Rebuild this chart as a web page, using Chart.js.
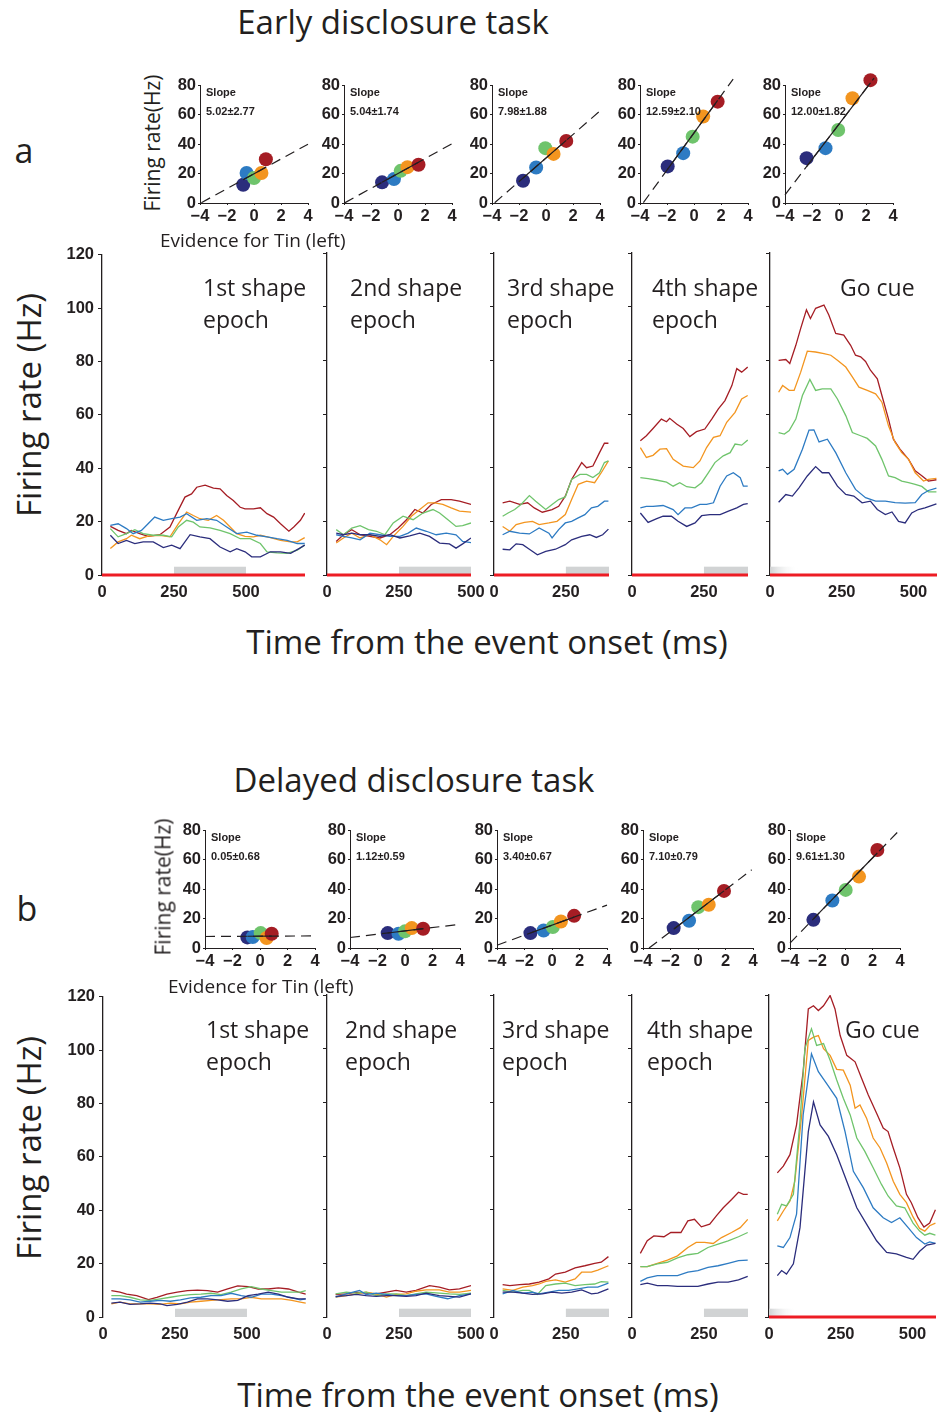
<!DOCTYPE html>
<html>
<head>
<meta charset="utf-8">
<script src="https://cdn.jsdelivr.net/npm/chart.js@4/dist/chart.umd.min.js"></script>
<style>
  body { margin: 0; background: #fff; }
  #fig { position: relative; width: 937px; height: 1414px; overflow: hidden; font-family: "Open Sans", sans-serif; color: #231f20; }
  #fig canvas { position: absolute; }
  .t { position: absolute; white-space: nowrap; line-height: 1; }
</style>
</head>
<body>
<div id="fig"></div>
<script>
// ---- data: firing rate (Hz) vs time from event onset (ms), [ms, Hz] ----
// early disclosure task
const e1Red = [[29,18.2],[56,16.7],[85,15.5],[102,16.7],[131,15.5],[160,14.5],[201,15.1],[236,18],[259,23],[288,29.2],[311,30.4],[329,32.9],[358,33.7],[387,32.6],[410,32.3],[433,29.8],[456,27.9],[480,25.4],[497,24.8],[526,24.8],[550,25.2],[573,23],[596,21.7],[620,19.2],[649,16.4],[666,18],[689,20.5],[704,23.2]];
const e1Orange = [[29,9.9],[56,12.4],[85,13.6],[102,14.9],[131,13.6],[160,14.6],[201,14.9],[236,14.3],[265,19.2],[294,23.6],[317,22.3],[340,21.1],[369,20.5],[398,22.3],[422,20.5],[445,18],[468,15.5],[497,14.5],[526,14.3],[550,14.9],[585,14],[620,13],[655,12.4],[678,12.4],[704,14]];
const e1Green = [[29,17.4],[56,14.3],[85,15.5],[114,17],[143,15.5],[178,14.9],[213,14.9],[242,14.3],[265,18],[294,20.5],[317,19.8],[340,18],[375,17.7],[410,16.7],[445,15.5],[480,13.6],[515,13.6],[550,11.8],[573,8.7],[608,8.3],[643,8.1],[678,9.3],[704,11.2]];
const e1Blue = [[29,18.6],[56,19.2],[85,17.4],[108,15.5],[137,16.7],[160,19.2],[183,21.7],[213,20.5],[242,21.1],[271,21.7],[294,23],[329,20.5],[364,21.1],[398,20.5],[433,18],[468,15.5],[503,16.1],[538,14.9],[573,14.3],[608,13.6],[643,13],[678,11.8],[704,11.8]];
const e1Navy = [[29,14.9],[56,11.8],[85,13],[114,11.8],[143,12.4],[178,12.4],[213,10.3],[242,11.2],[271,9.9],[306,15.1],[340,14.3],[375,13.6],[410,10.5],[445,8.7],[468,9.9],[497,8.7],[520,6.8],[550,6.8],[585,8.7],[620,8.7],[655,8.1],[684,9.9],[704,11.2]];

const e2Red = [[32,12.5],[57,15],[86,16.9],[115,15],[149,14.4],[184,13.8],[218,15],[247,17.5],[276,20.6],[305,24.4],[333,23.1],[362,26.3],[397,28.1],[431,28.1],[460,27.5],[500,26.3]];
const e2Orange = [[32,11.9],[57,13.8],[86,15.6],[115,13.8],[149,15],[184,13.1],[207,11.3],[230,14.4],[264,18.1],[293,21.9],[322,24.4],[351,26.9],[374,26.9],[402,26.3],[431,25],[460,23.8],[500,23.4]];
const e2Green = [[32,16.9],[57,15],[86,17.5],[115,18.4],[144,16.9],[172,16.3],[201,15],[230,19.4],[264,21.9],[299,20.6],[333,23.1],[368,24.4],[391,23.1],[420,20.6],[448,18.1],[471,18.4],[500,19.4]];
const e2Blue = [[32,15],[57,14.4],[86,13.8],[115,13.1],[149,15.6],[184,15],[218,14.4],[253,14.4],[282,15.6],[310,17.5],[345,16.3],[379,15],[414,15.6],[448,15],[471,12.5],[500,12.1]];
const e2Navy = [[32,15.6],[57,15],[86,15.6],[115,15],[149,15],[184,14.4],[218,15],[253,13.8],[287,14.6],[322,15.6],[356,14.4],[391,11.9],[425,11.6],[448,10],[471,11.6],[500,13.8]];

const e3Red = [[30,26.9],[55,27.5],[89,26.3],[117,26.9],[140,25],[168,23.4],[202,24.4],[225,25.6],[248,29.4],[270,35.6],[305,41.9],[322,40],[344,40.6],[367,45.6],[384,49.1],[398,49.1]];
const e3Orange = [[30,18.1],[55,16.3],[77,18.8],[106,19.6],[134,20],[157,18.8],[191,19.4],[219,20],[248,22.5],[270,28.1],[293,33.8],[322,35],[350,34.4],[373,38.1],[398,42.5]];
const e3Green = [[30,21.9],[49,23.1],[72,24.4],[94,26.3],[123,29.6],[145,27.5],[180,24.4],[202,26.3],[225,28.1],[248,29.1],[270,35.6],[299,37.5],[322,37.5],[344,36.3],[367,38.1],[384,41.9],[398,42.5]];
const e3Blue = [[30,15],[55,16.3],[89,15.6],[123,15.3],[157,17.5],[191,15.6],[202,13.8],[225,16.9],[248,19.4],[270,20],[293,21.3],[316,22.5],[339,25],[361,25.6],[384,27.5],[398,27.5]];
const e3Navy = [[30,9.6],[55,9.4],[77,11.6],[100,11.3],[123,9.6],[151,7.5],[180,8.8],[214,9.6],[248,11.3],[270,13.1],[305,14.4],[333,15],[356,14],[378,15],[398,17.1]];

const e4Red = [[29,50],[50,51.9],[73,54.6],[102,58.1],[120,57.1],[131,58.4],[155,56.3],[178,54.6],[201,51.6],[224,53.4],[253,54.4],[277,58.1],[300,61.9],[323,65],[347,70.6],[364,76.9],[381,75.6],[402,77.5]];
const e4Orange = [[29,47.5],[50,43.8],[73,44.6],[97,46.9],[120,47.1],[143,43.1],[178,40.6],[213,40],[236,42.5],[259,47.5],[283,51.3],[306,51.9],[329,56.9],[358,60.6],[381,65.6],[402,66.9]];
const e4Green = [[29,36.3],[56,35.9],[84,35.4],[120,34.6],[143,33.1],[166,34.4],[190,32.9],[219,32.5],[242,34.4],[265,38.1],[288,41.9],[317,44.4],[341,45.6],[358,48.8],[381,48.4],[402,50.3]];
const e4Blue = [[29,25],[50,25.6],[73,25.6],[108,25.9],[143,24.4],[160,22.5],[184,25],[207,25],[236,26.3],[259,26.3],[283,26.9],[306,33.1],[329,36.9],[352,38.1],[376,36.3],[387,33.1],[402,33.1]];
const e4Navy = [[29,23.1],[56,19.6],[84,20.9],[108,21.9],[137,21.9],[160,20],[190,18.1],[219,19.4],[242,22.1],[271,22.5],[306,22.5],[335,23.8],[364,25],[387,26.3],[402,26.6]];

const e5Red = [[30,80],[55,80.3],[69,78.8],[90,85.6],[107,91.9],[127,98.8],[141,95.6],[159,99.4],[188,100.6],[205,96.9],[229,90],[257,89.4],[281,85.6],[298,81.9],[316,81.3],[333,79.6],[350,76.3],[374,73.1],[390,66.9],[413,58.1],[430,50.6],[453,46.9],[483,43.1],[506,38.8],[529,37],[552,35],[580,35.5]];
const e5Orange = [[30,68.1],[44,70.6],[67,68.8],[84,68.8],[107,75.6],[130,83.4],[159,83.1],[188,82.5],[212,81.9],[235,80],[264,77.5],[287,73.8],[310,70],[339,68.8],[368,67.5],[390,64.4],[413,55.6],[436,49.4],[459,45.6],[483,43.1],[506,38.1],[535,35],[552,35.6],[580,36]];
const e5Green = [[30,53.1],[50,52.5],[67,53.8],[90,58.1],[113,66.9],[139,72.9],[159,68.8],[182,69.4],[212,69.4],[235,65.6],[264,59.4],[287,53.1],[316,51.9],[339,50.9],[368,48.1],[390,43.1],[413,36.9],[436,36.3],[459,35],[483,34.4],[506,33.8],[529,33],[552,31],[580,31]];
const e5Blue = [[30,38.8],[44,39.4],[61,37.5],[84,39.4],[113,46.9],[136,54],[153,54.1],[171,49.6],[200,50.6],[229,45.6],[264,38.1],[298,31.9],[333,28.8],[368,27.5],[402,27.5],[436,27],[471,26.8],[506,27],[529,30],[552,31.5],[580,32.4]];
const e5Navy = [[30,27.1],[55,30],[78,29.4],[101,32.5],[130,36.9],[159,40.4],[182,38.1],[205,38.1],[235,33.1],[264,30],[292,29.4],[321,26.9],[350,27.5],[374,24.4],[402,22.5],[425,23.5],[448,20],[471,19.4],[494,23.1],[517,24.4],[540,25],[580,26.5]];

// delayed disclosure task
const d1Red = [[29,9.9],[59,9.3],[82,8.6],[117,8],[158,6.5],[187,7.4],[222,8.6],[258,9.3],[293,9.9],[328,10.1],[363,9.9],[398,9.3],[433,10.5],[468,11.7],[504,11.4],[539,10.5],[574,10.5],[609,10.9],[644,10.5],[679,9.3],[704,8.6]];
const d1Orange = [[29,4.9],[59,5.6],[94,4.9],[129,4.9],[164,4.9],[199,4.7],[234,5.2],[269,4.9],[304,5.6],[340,5.9],[375,6.2],[410,6.5],[445,6.8],[480,6.8],[515,7.4],[550,6.8],[585,6.8],[620,6.8],[656,6.2],[685,5.6],[704,5.2]];
const d1Green = [[29,8],[59,8],[94,7.4],[129,6.4],[164,6.2],[199,6.8],[234,7.4],[269,8],[304,8.4],[340,8.6],[375,8.9],[410,8.4],[445,9.3],[480,10.5],[515,11.4],[550,10.5],[585,9.9],[620,9.3],[656,9.3],[685,9.3],[704,9.9]];
const d1Blue = [[29,6.8],[59,6.8],[94,6.4],[129,5.6],[164,5.9],[199,6.2],[234,5.9],[269,6.4],[304,7.2],[340,7.4],[375,8],[410,8],[445,8.9],[480,8],[515,7.4],[550,8.6],[585,8.6],[620,8],[656,7.2],[685,6.4],[704,6.8]];
const d1Navy = [[29,5.2],[59,5.6],[94,4.7],[129,4.9],[164,5.2],[199,4.9],[222,4.3],[258,4.7],[293,5.6],[328,6.8],[363,6.8],[398,6.4],[433,5.9],[468,6.2],[504,8],[539,8.6],[574,9.3],[609,8.6],[644,7.4],[679,6.8],[704,6.8]];

const d2Red = [[30,8.4],[67,8.6],[102,9.3],[136,8.9],[171,8.6],[206,9.3],[240,9.9],[275,9.3],[309,9.9],[356,11.7],[390,11.1],[425,10.1],[460,10.5],[500,11.7]];
const d2Orange = [[30,7.4],[67,8],[102,8.6],[136,9.3],[171,8.6],[206,7.4],[240,8.4],[275,8.6],[309,9.6],[344,10.1],[390,10.1],[425,9.3],[460,9.3],[500,9.9]];
const d2Green = [[30,8.6],[67,9.3],[102,8.9],[136,9.3],[171,8],[206,8.6],[240,8.6],[275,8],[309,8.6],[344,9.3],[390,8.9],[425,8.6],[460,8.4],[500,8.9]];
const d2Blue = [[30,7.4],[67,8.6],[113,9.9],[136,8.4],[171,8.9],[206,8.4],[240,8],[275,8],[309,8.4],[344,8.6],[379,7.7],[419,6.8],[460,8],[500,8.6]];
const d2Navy = [[30,7.7],[67,8],[102,8.4],[136,8],[171,7.7],[206,8],[240,8],[275,7.7],[309,8],[344,8.9],[390,8],[425,7.7],[460,7.4],[500,8.6]];

const d3Red = [[30,12.1],[55,11.7],[89,12.1],[123,12.3],[157,13],[191,14.2],[214,16],[248,16.7],[282,18.3],[316,19.1],[350,20],[373,20.4],[398,22.5]];
const d3Orange = [[30,10.5],[66,9.9],[100,11.1],[134,11.7],[157,12.3],[180,13.3],[214,13.8],[248,13],[282,14.2],[305,16.7],[339,16.7],[361,17.5],[398,19.1]];
const d3Green = [[30,9.9],[66,9.3],[100,9.9],[123,9.9],[151,8.4],[180,11.7],[214,12.3],[248,12.6],[282,11.7],[316,12.1],[350,12.3],[373,13.2],[398,13]];
const d3Blue = [[30,8.6],[66,9.9],[100,8.9],[134,9.3],[157,8.6],[191,9.3],[225,9.9],[259,9.9],[293,10.5],[327,11.1],[361,11.1],[398,12.6]];
const d3Navy = [[30,9.3],[66,9.3],[100,8.9],[134,8.4],[168,8.6],[202,9.3],[236,8.9],[270,9.3],[305,10.1],[339,8.6],[361,8.9],[398,10.5]];

const d4Red = [[29,23.7],[53,28.4],[76,30.2],[111,29.9],[135,31.5],[170,31.5],[194,35.8],[217,36.4],[241,33.6],[270,34.6],[293,37.7],[317,40.7],[346,43.8],[370,46.5],[387,45.7],[402,45.7]];
const d4Orange = [[29,18.8],[53,18.8],[88,20],[123,21.2],[158,22.8],[194,25.9],[223,27.8],[252,27.8],[282,27.4],[311,29.6],[346,31.5],[376,33.3],[402,36.4]];
const d4Green = [[29,18.8],[53,18.8],[88,19.8],[123,20.4],[158,22],[194,23.2],[229,23.7],[264,25.9],[299,27.2],[334,28.4],[370,29.9],[402,31.5]];
const d4Blue = [[29,13.3],[53,14.6],[88,15.4],[123,15.4],[158,15.4],[194,16.7],[229,17.3],[264,18.5],[299,19.1],[334,20],[370,21],[402,21.2]];
const d4Navy = [[29,12.1],[53,12.6],[88,11.7],[123,11.7],[158,11.4],[194,11.4],[229,11.4],[264,12.3],[299,13],[334,13],[370,13.8],[402,15.1]];

const d5Red = [[29,53.7],[50,56.2],[73,60.5],[96,71.6],[119,91.4],[137,114.8],[155,116],[172,114.2],[190,116],[213,119.8],[230,114.8],[248,104.9],[271,97.5],[300,95.1],[323,88.9],[346,82.7],[375,75.9],[398,70.4],[415,69.1],[433,63],[456,55.6],[479,45.7],[496,42.6],[519,37],[540,33.5],[560,35],[580,40]];
const d5Orange = [[29,35.8],[50,39.5],[73,43.2],[90,50.6],[114,75.3],[137,103.1],[155,104.3],[172,104.9],[190,100],[213,97.5],[236,92.3],[259,92],[283,86.4],[300,77.8],[317,79],[340,74.1],[363,66.7],[387,63],[410,57.4],[433,50.6],[456,45.7],[479,42.6],[502,37.3],[525,33],[543,32],[560,34],[580,35]];
const d5Green = [[29,38.3],[44,42],[61,41.4],[85,45.7],[108,72.8],[125,100],[148,107.4],[166,101.2],[190,101.9],[213,95.7],[236,88.3],[259,81.5],[283,75.3],[306,66.7],[334,61.7],[363,55.6],[392,49.4],[415,45.1],[444,41.4],[473,40.7],[502,35],[525,32],[543,30.5],[560,31.2],[580,30.5]];
const d5Blue = [[29,26.5],[50,25.9],[73,29.6],[96,38.3],[119,75.3],[148,98.1],[172,91.4],[201,87],[236,81.5],[265,69.1],[294,54.3],[329,48.1],[363,40.7],[398,37],[427,35.2],[456,37],[485,33.3],[514,29.6],[543,27.2],[560,28],[580,27.4]];
const d5Navy = [[29,15.4],[44,17.3],[61,16],[85,19.8],[108,33.3],[137,69.1],[155,80.2],[178,71.6],[207,67.3],[236,60.5],[271,50.6],[306,40.7],[340,34.6],[375,28.4],[410,24.1],[444,23.5],[479,22.2],[502,21.5],[525,24.5],[550,26.8],[580,27.4]];

// inset scatter: evidence for Tin vs firing rate, order navy, blue, green, orange, red
const earlyInsetX = [[-0.8,-0.55,0,0.55,0.88],[-1.18,-0.3,0.2,0.7,1.52],[-1.7,-0.73,-0.05,0.56,1.5],[-1.95,-0.8,-0.1,0.68,1.75],[-2.4,-1.0,-0.06,1.0,2.33]];
const earlyInsetY = [[12.4,20.3,16.9,20.3,29.7],[14,16.2,21.8,24.3,25.9],[15.1,24.1,37.2,33.3,42.1],[24.8,33.8,45,58.6,68.7],[30.4,37.2,49.5,71,83.3]];
const earlySlope = [5.02, 5.04, 7.98, 12.59, 12.00];
const earlyIntercept = [19.8, 20, 30.5, 47.5, 53.5];
const earlyFitRange = [[-3.9,4],[-3.95,4],[-3.8,4],[-3.75,2.9],[-4,2.6]];
const earlySlopeText = ["5.02±2.77","5.04±1.74","7.98±1.88","12.59±2.10","12.00±1.82"];

const delayedInsetX = [[-0.92,-0.53,0.05,0.48,0.85],[-1.26,-0.47,0,0.49,1.32],[-1.57,-0.61,0.06,0.65,1.61],[-1.77,-0.65,0.02,0.78,1.89],[-2.3,-0.92,0.05,1.02,2.35]];
const delayedInsetY = [[7.2,7.4,10.1,6.8,9.7],[10.1,9.7,11.3,13.5,13.1],[10.1,11.9,14.2,18,21.8],[13.5,18.5,27.7,29.3,38.7],[19.1,32.2,39.4,48.4,66.4]];
const delayedSlope = [0.05, 1.12, 3.40, 7.10, 9.61];
const delayedIntercept = [8, 11.6, 15.5, 25.3, 41.8];
const delayedFitRange = [[-4,4],[-4,4],[-4,4],[-3.56,3.9],[-4,3.9]];
const delayedSlopeText = ["0.05±0.68","1.12±0.59","3.40±0.67","7.10±0.79","9.61±1.30"];

const epochNames = [["1st shape","epoch"],["2nd shape","epoch"],["3rd shape","epoch"],["4th shape","epoch"],["Go cue"]];
const epochLength = [705, 500, 400, 403, 582];   // ms shown per panel
const timeTicks = [0, 250, 500];
const rateTicks = [0, 20, 40, 60, 80, 100, 120];
const evidenceTicks = [-4, -2, 0, 2, 4];
const insetRateTicks = [0, 20, 40, 60, 80];

const SERIES_COLORS = ["#2b2d7c", "#2d7bc3", "#6fc46c", "#f3951f", "#a51d24"];
const INK = "#231f20";
const BASE_RED = "#ed1c24";
const SHADE = "#d1d3d4";
const TICK_FONT = { family: '"Liberation Sans", Arial, sans-serif', weight: "bold", size: 16.5 };
const INSET_TICK_FONT = { family: '"Liberation Sans", Arial, sans-serif', weight: "bold", size: 16.5 };
const PX_PER_MS = 0.2875;

const fig = document.getElementById("fig");

function addText(str, x, y, size, o = {}) {
  const d = document.createElement("div");
  d.className = "t";
  d.textContent = str;
  d.style.fontSize = size + "px";
  d.style.left = x + "px";
  d.style.top = y + "px";
  if (o.family) d.style.fontFamily = o.family;
  if (o.weight) d.style.fontWeight = o.weight;
  const tx = o.align === "left" ? "0" : "-50%";
  d.style.transform = `translate(${tx},-50%)` + (o.rotate ? ` rotate(${o.rotate}deg)` : "");
  fig.appendChild(d);
}

function makeCanvas(left, top, w, h) {
  const c = document.createElement("canvas");
  c.width = w; c.height = h;
  c.style.left = left + "px"; c.style.top = top + "px";
  c.style.width = w + "px"; c.style.height = h + "px";
  fig.appendChild(c);
  return c;
}

// grey epoch bar / go-cue fade drawn under the traces
const epochShadePlugin = {
  id: "epochShade",
  beforeDatasetsDraw(chart, args, opts) {
    if (!opts.kind) return;
    const { ctx, scales: { x, y } } = chart;
    const y0 = y.getPixelForValue(0), y1 = y.getPixelForValue(3.1);
    ctx.save();
    if (opts.kind === "bar") {
      const x0 = x.getPixelForValue(250), x1 = x.getPixelForValue(Math.min(500, x.max));
      ctx.fillStyle = SHADE;
      ctx.fillRect(x0, y1, x1 - x0, y0 - y1);
    } else {
      const x0 = x.getPixelForValue(0), x1 = x.getPixelForValue(100);
      const g = ctx.createLinearGradient(x0, 0, x1, 0);
      g.addColorStop(0, SHADE);
      g.addColorStop(1, "rgba(255,255,255,0)");
      ctx.fillStyle = g;
      ctx.fillRect(x0, y1, x1 - x0, y0 - y1);
    }
    ctx.restore();
  },
};
Chart.register(epochShadePlugin);

function timeChart(series, axisX, top, bottom, idx, redBase) {
  const showY = idx === 0;
  const W = showY ? 50 : 14, PT = 12, PR = 22, XH = 34;
  const xMax = epochLength[idx];
  const plotW = xMax * PX_PER_MS;
  const canvas = makeCanvas(axisX - W, top - PT, Math.round(W + plotW + PR), PT + (bottom - top) + XH);
  const datasets = series.map((s, i) => ({
    data: s.map(([x, y]) => ({ x, y })),
    borderColor: SERIES_COLORS[i],
    borderWidth: 1.3,
    pointRadius: 0,
    showLine: true,
  }));
  if (redBase) {
    datasets.unshift({
      data: [{ x: 0, y: 0 }, { x: xMax, y: 0 }],
      borderColor: BASE_RED, borderWidth: 3, pointRadius: 0, showLine: true, clip: false,
    });
  }
  new Chart(canvas, {
    type: "scatter",
    data: { datasets },
    options: {
      responsive: false, animation: false, events: [],
      layout: { padding: { top: PT, right: PR, left: 0, bottom: 0 } },
      plugins: {
        legend: { display: false }, tooltip: { enabled: false },
        epochShade: { kind: idx === 4 ? "fade" : "bar" },
      },
      scales: {
        x: {
          type: "linear", min: 0, max: xMax,
          afterBuildTicks: (ax) => { ax.ticks = timeTicks.filter((v) => v <= xMax).map((value) => ({ value })); },
          afterFit: (ax) => { ax.height = XH; },
          grid: { display: false }, border: { display: false },
          ticks: { color: INK, font: TICK_FONT, padding: 0, maxRotation: 0 },
        },
        y: {
          min: 0, max: 120,
          afterBuildTicks: (ax) => { ax.ticks = rateTicks.map((value) => ({ value })); },
          afterFit: (ax) => { ax.width = W; },
          grid: { drawOnChartArea: false, drawTicks: true, tickLength: 4, color: INK, lineWidth: 1 },
          border: { display: true, color: INK, width: 1.3 },
          ticks: { display: showY, color: INK, font: TICK_FONT, padding: 4 },
        },
      },
    },
  });
}

function insetChart(axisX, top, bottom, width, xs, ys, slope, icpt, range, slopeText) {
  const W = 34, PT = 12, PR = 14, XH = 28;
  const canvas = makeCanvas(axisX - W, top - PT, W + width + PR, PT + (bottom - top) + XH);
  const fit = (x) => ({ x, y: icpt + slope * x });
  const lo = Math.min(...xs), hi = Math.max(...xs);
  new Chart(canvas, {
    type: "scatter",
    data: {
      datasets: [
        { data: [fit(lo), fit(hi)], borderColor: INK, borderWidth: 1.2, pointRadius: 0, showLine: true, clip: false },
        { data: [fit(range[0]), fit(range[1])], borderColor: INK, borderWidth: 1.2, borderDash: [10, 6], pointRadius: 0, showLine: true, clip: false },
        { data: xs.map((x, i) => ({ x, y: ys[i] })), backgroundColor: SERIES_COLORS, pointRadius: 7, pointBorderWidth: 0, clip: false },
      ],
    },
    options: {
      responsive: false, animation: false, events: [],
      layout: { padding: { top: PT, right: PR, left: 0, bottom: 0 } },
      plugins: { legend: { display: false }, tooltip: { enabled: false } },
      scales: {
        x: {
          type: "linear", min: -4, max: 4,
          afterBuildTicks: (ax) => { ax.ticks = evidenceTicks.map((value) => ({ value })); },
          afterFit: (ax) => { ax.height = XH; },
          grid: { drawOnChartArea: false, drawTicks: true, tickLength: 2, color: INK },
          border: { display: true, color: INK, width: 1 },
          ticks: { color: INK, font: INSET_TICK_FONT, padding: 2, maxRotation: 0,
                   callback: (v) => (v < 0 ? "\u2212" + Math.abs(v) : String(v)) },
        },
        y: {
          min: 0, max: 80,
          afterBuildTicks: (ax) => { ax.ticks = insetRateTicks.map((value) => ({ value })); },
          afterFit: (ax) => { ax.width = W; },
          grid: { drawOnChartArea: false, drawTicks: true, tickLength: 2, color: INK },
          border: { display: true, color: INK, width: 1 },
          ticks: { color: INK, font: INSET_TICK_FONT, padding: 2 },
        },
      },
    },
  });
  const sf = '"Liberation Sans", Arial, sans-serif';
  addText("Slope", axisX + 6, top + 7, 11, { align: "left", family: sf, weight: "bold" });
  addText(slopeText, axisX + 6, top + 26, 11, { align: "left", family: sf, weight: "bold" });
}

function panel(p) {
  p.mainAxes.forEach((ax, i) => timeChart(p.series[i], ax, p.top, p.bottom, i, p.redBase[i]));
  p.insetAxes.forEach((ax, i) =>
    insetChart(ax, p.insetTop, p.insetBottom, p.insetWidth, p.insetX[i], p.insetY[i],
               p.slope[i], p.intercept[i], p.fitRange[i], p.slopeText[i]));
  addText(p.title, p.titleX, p.titleY, 33);
  addText(p.letter, p.letterX, p.letterY, 34);
  addText("Firing rate(Hz)", p.insetLabelX, p.insetLabelY, 21, { rotate: -90 });
  addText("Evidence for Tin (left)", p.evidenceX, p.evidenceY, 19, { align: "left" });
  addText("Firing rate (Hz)", 28, p.rateLabelY, 33, { rotate: -90 });
  addText("Time from the event onset (ms)", p.timeLabelX, p.timeLabelY, 33);
  epochNames.forEach((lines, i) => {
    lines.forEach((s, j) => addText(s, p.epochX[i], p.epochY + j * 32, 23, { align: "left" }));
  });
}

panel({
  series: [
    [e1Navy, e1Blue, e1Green, e1Orange, e1Red],
    [e2Navy, e2Blue, e2Green, e2Orange, e2Red],
    [e3Navy, e3Blue, e3Green, e3Orange, e3Red],
    [e4Navy, e4Blue, e4Green, e4Orange, e4Red],
    [e5Navy, e5Blue, e5Green, e5Orange, e5Red],
  ],
  mainAxes: [102, 327, 494, 632, 770], top: 253, bottom: 575,
  redBase: [true, true, true, true, true],
  insetAxes: [200, 344, 492, 640, 785], insetTop: 85, insetBottom: 203, insetWidth: 108,
  insetX: earlyInsetX, insetY: earlyInsetY, slope: earlySlope, intercept: earlyIntercept,
  fitRange: earlyFitRange, slopeText: earlySlopeText,
  title: "Early disclosure task", titleX: 393, titleY: 21,
  letter: "a", letterX: 24, letterY: 150,
  insetLabelX: 152, insetLabelY: 143, evidenceX: 160, evidenceY: 240,
  rateLabelY: 405, timeLabelX: 487, timeLabelY: 641,
  epochX: [203, 350, 507, 652, 840], epochY: 287,
});

panel({
  series: [
    [d1Navy, d1Blue, d1Green, d1Orange, d1Red],
    [d2Navy, d2Blue, d2Green, d2Orange, d2Red],
    [d3Navy, d3Blue, d3Green, d3Orange, d3Red],
    [d4Navy, d4Blue, d4Green, d4Orange, d4Red],
    [d5Navy, d5Blue, d5Green, d5Orange, d5Red],
  ],
  mainAxes: [103, 327, 494, 632, 769], top: 995, bottom: 1317,
  redBase: [false, false, false, false, true],
  insetAxes: [205, 350, 497, 643, 790], insetTop: 830, insetBottom: 948, insetWidth: 110,
  insetX: delayedInsetX, insetY: delayedInsetY, slope: delayedSlope, intercept: delayedIntercept,
  fitRange: delayedFitRange, slopeText: delayedSlopeText,
  title: "Delayed disclosure task", titleX: 414, titleY: 779,
  letter: "b", letterX: 27, letterY: 908,
  insetLabelX: 163, insetLabelY: 887, evidenceX: 168, evidenceY: 986,
  rateLabelY: 1148, timeLabelX: 478, timeLabelY: 1394,
  epochX: [206, 345, 502, 647, 845], epochY: 1029,
});
</script>
</body>
</html>
